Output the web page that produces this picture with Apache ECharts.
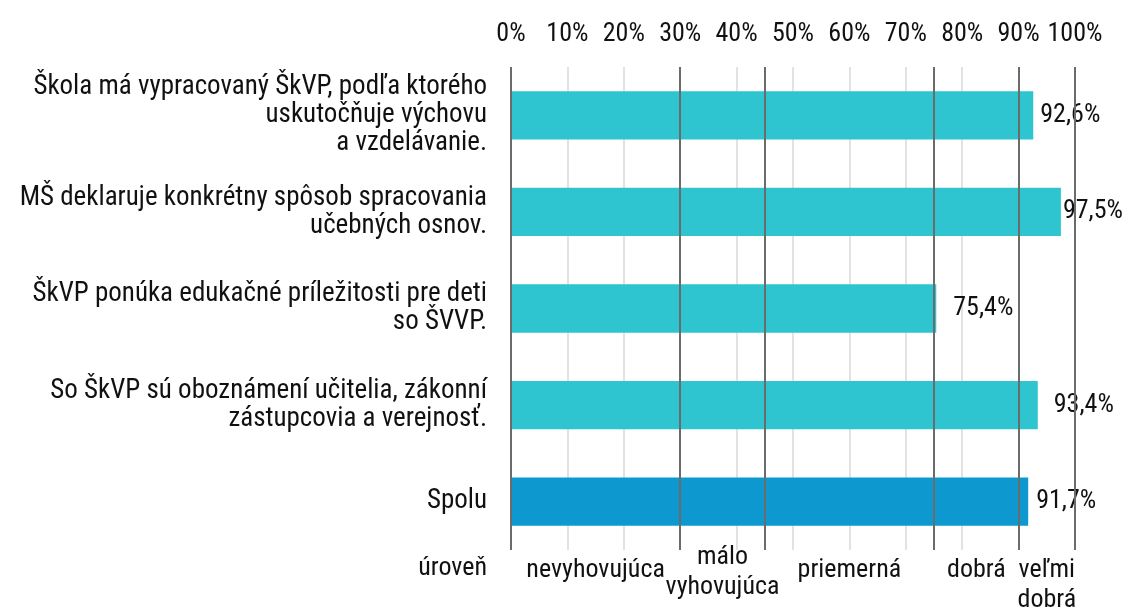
<!DOCTYPE html>
<html>
<head>
<meta charset="utf-8">
<script src="https://cdn.jsdelivr.net/npm/echarts@6/dist/echarts.min.js"></script>
<style>
  html, body { margin: 0; padding: 0; background: #fff; }
  #chart { width: 1128px; height: 608px; }
</style>
</head>
<body>
<div id="chart"></div>
<script>
// kategorie (zhora nadol)
var categories = [
    'Škola má vypracovaný ŠkVP, podľa ktorého\nuskutočňuje výchovu\na vzdelávanie.',
    'MŠ deklaruje konkrétny spôsob spracovania\nučebných osnov.',
    'ŠkVP ponúka edukačné príležitosti pre deti\nso ŠVVP.',
    'So ŠkVP sú oboznámení učitelia, zákonní\nzástupcovia a verejnosť.',
    'Spolu'
];
var values = [92.6, 97.5, 75.4, 93.4, 91.7];

// hranice urovni
var levelBounds = [0, 30, 45, 75, 90, 100];
var levelNames = ['nevyhovujúca', 'málo\nvyhovujúca', 'priemerná', 'dobrá', 'veľmi\ndobrá'];
var levelTitle = 'úroveň';

var FONT = '"Roboto Condensed", Roboto, sans-serif';
var FS = 26;
var chart = echarts.init(document.getElementById('chart'), null, {renderer: 'canvas'});

var barColor = '#2ec5d1';
var totalColor = '#0e98d0';
// popisky su v originali rucne posunute
var labelGap = [7, 2, 17, 16, 8];

var barData = values.map(function (v, i) {
    return {
        value: v,
        itemStyle: {color: i === values.length - 1 ? totalColor : barColor},
        label: {distance: labelGap[i]}
    };
});

var areaData = [];
for (var i = 0; i < levelNames.length; i++) {
    var lbl = {};
    if (i === 1) lbl = {offset: [0, -13]};
    areaData.push([
        {xAxis: levelBounds[i], name: levelNames[i], label: lbl},
        {xAxis: levelBounds[i + 1]}
    ]);
}

var option = {
    animation: false,
    textStyle: {fontFamily: FONT},
    grid: {left: 511, right: 53, top: 67, bottom: 58},
    xAxis: {
        type: 'value',
        position: 'top',
        min: 0,
        max: 100,
        interval: 10,
        axisLine: {show: false},
        axisTick: {show: false},
        axisLabel: {
            formatter: '{value}%',
            fontSize: FS,
            color: '#111',
            margin: 20,
            fontFamily: FONT
        },
        splitLine: {lineStyle: {color: '#d9d9d9', width: 1.5}}
    },
    yAxis: {
        type: 'category',
        inverse: true,
        data: categories,
        axisLine: {show: false},
        axisTick: {show: false},
        axisLabel: {
            fontSize: 27,
            color: '#111',
            margin: 24,
            lineHeight: 28,
            align: 'right',
            fontFamily: FONT
        }
    },
    graphic: [{
        type: 'text',
        right: 1128 - 487,
        top: 555,
        style: {text: levelTitle, font: FS + 'px ' + FONT, fill: '#111'}
    }],
    series: [{
        type: 'bar',
        data: barData,
        barWidth: '50%',
        label: {
            show: true,
            position: 'right',
            fontSize: FS,
            color: '#111',
            fontFamily: FONT,
            formatter: function (p) {
                return p.value.toFixed(1).replace('.', ',') + '%';
            }
        },
        markLine: {
            silent: true,
            symbol: 'none',
            label: {show: false},
            lineStyle: {color: '#6b6b6b', width: 2, type: 'solid'},
            data: levelBounds.map(function (b) { return {xAxis: b}; })
        },
        markArea: {
            silent: true,
            itemStyle: {color: 'rgba(0,0,0,0)'},
            label: {
                show: true,
                position: 'bottom',
                distance: 5,
                fontSize: FS,
                lineHeight: 30,
                color: '#111',
                fontFamily: FONT
            },
            data: areaData
        },
        z: 3
    }]
};

chart.setOption(option);
</script>
</body>
</html>
